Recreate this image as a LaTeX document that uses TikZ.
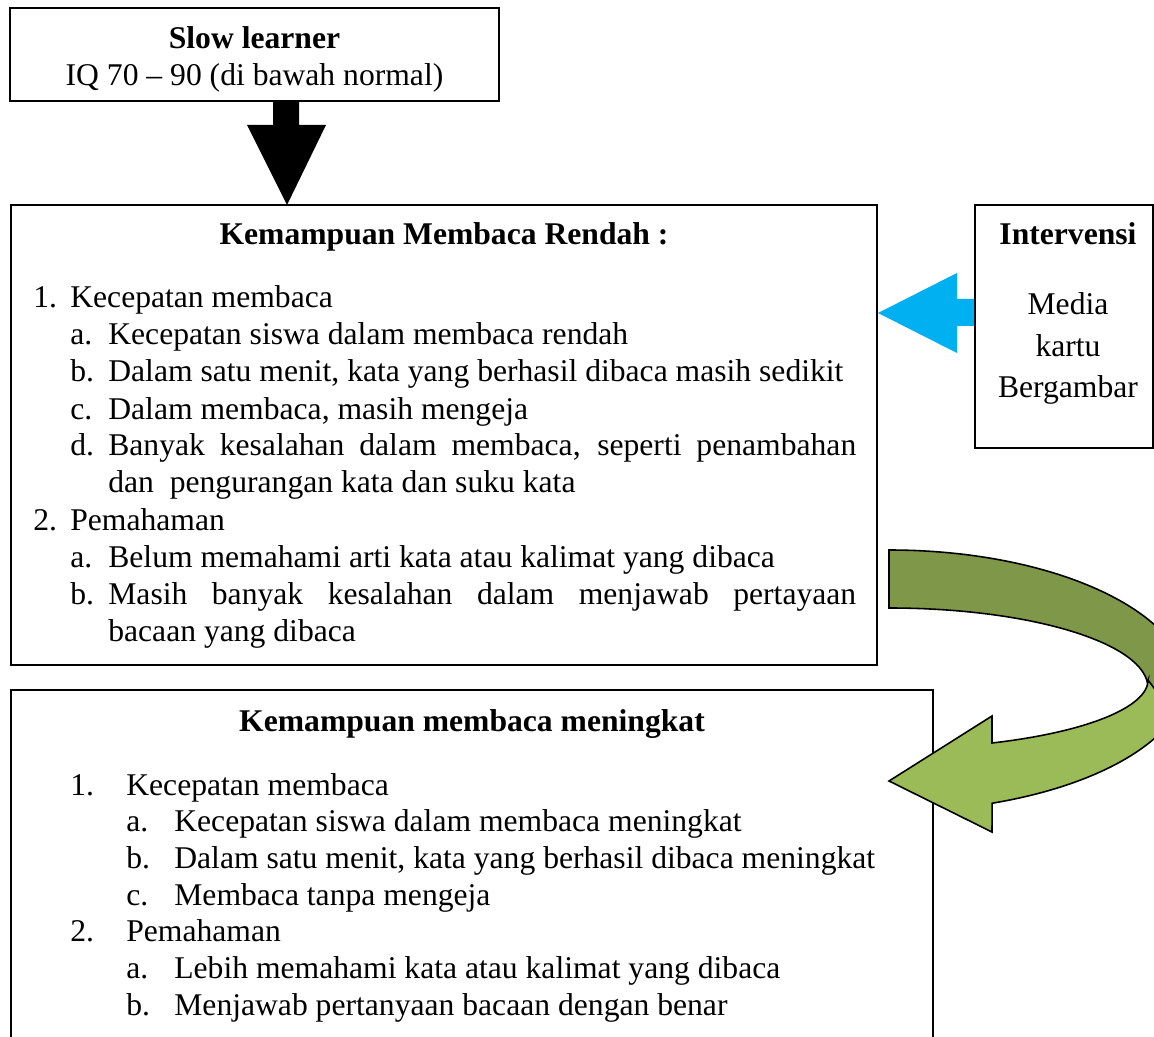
\documentclass[tikz,border=0pt]{standalone}
\usepackage{fontspec}
\setmainfont{Liberation Serif}
\usetikzlibrary{fit}

\definecolor{arrowcyan}{RGB}{0,176,240}
\definecolor{olivedark}{RGB}{127,151,72}
\definecolor{olivelight}{RGB}{155,187,89}

\tikzset{
        box/.style = {draw, line width=0.9pt, inner sep=0pt},
        txt/.style = {anchor=base west, inner sep=0pt, font=\fontsize{18}{21}\selectfont},
        ctr/.style = {anchor=base, inner sep=0pt, font=\fontsize{18}{21}\selectfont},
        ttl/.style = {ctr, font=\fontsize{18}{21}\selectfont\bfseries},
        curvearrow/.style = {draw=black, line width=0.9pt, line join=miter}
    }

\begin{document}
\begin{tikzpicture}[x=0.02cm, y=-0.02cm]
            \useasboundingbox (0,0) rectangle (1154,1037);
            \clip (0,0) rectangle (1154,1037);

            % boxes
            \node[box, fit={(10,8) (499,101)}] (slow) {};
            \node[box, fit={(11,205) (877,665)}] (rendah) {};
            \node[box, fit={(975,205) (1153,448)}] (intervensi) {};
            \node[box, fit={(11,690) (933,1060)}] (meningkat) {};

            % slow learner
            \node[ttl] (slowT) at (254.5,49) {Slow learner};
            \node[ctr] (slowIQ) at (254.5,86) {IQ 70 – 90 (di bawah normal)};

            % intervensi
            \node[ttl] (intT) at (1068,245) {Intervensi};
            \node[ctr] (int1) at (1068,315) {Media};
            \node[ctr] (int2) at (1068,357) {kartu};
            \node[ctr] (int3) at (1068,398) {Bergambar};

            % kemampuan rendah
            \node[ttl] (rendahT) at (444,245) {Kemampuan Membaca Rendah :};
            \node[txt] (r1) at (33,308) {1.};
            \node[txt] at (70,308) {Kecepatan membaca};
            \node[txt] (r2) at (33,530) {2.};
            \node[txt] at (70,530) {Pemahaman};
            \foreach \y/\l/\t in {345/a./{Kecepatan siswa dalam membaca rendah},
                    382/b./{Dalam satu menit, kata yang berhasil dibaca masih sedikit},
                    419/c./{Dalam membaca, masih mengeja},
                    456/d./{\makebox[14.96cm][s]{Banyak kesalahan dalam membaca, seperti penambahan}},
                    493//{dan~ pengurangan kata dan suku kata},
                    567/a./{Belum memahami arti kata atau kalimat yang dibaca},
                    604/b./{\makebox[14.96cm][s]{Masih banyak kesalahan dalam menjawab pertayaan}},
                    641//{bacaan yang dibaca}} {
                \node[txt] at (70,\y) {\l};
                \node[txt] at (108,\y) {\t};
            };

            % kemampuan meningkat
            \node[ttl] (meningkatT) at (472,731) {Kemampuan membaca meningkat};
            \node[txt] (m1) at (70,795) {1.};
            \node[txt] at (126,795) {Kecepatan membaca};
            \node[txt] (m2) at (70,941.7) {2.};
            \node[txt] at (126,941.7) {Pemahaman};
            \foreach \y/\l/\t in {831.7/a./{Kecepatan siswa dalam membaca meningkat},
                    868.3/b./{Dalam satu menit, kata yang berhasil dibaca meningkat},
                    905/c./{Membaca tanpa mengeja},
                    978.3/a./{Lebih memahami kata atau kalimat yang dibaca},
                    1015/b./{Menjawab pertanyaan bacaan dengan benar}} {
                \node[txt] at (126,\y) {\l};
                \node[txt] at (174,\y) {\t};
            };

            % block arrows
            \coordinate (tipA) at (287,205);
            \fill[black] (273,101) -- (299,101) -- (299,125) -- (326,125) -- (tipA)
                -- (247,125) -- (273,125) -- cycle;

            \coordinate (tipB) at (878,313);
            \fill[arrowcyan] (intervensi.west |- 0,299) -- (957,299) -- (957,273) -- (tipB)
                -- (957,353) -- (957,326) -- (intervensi.west |- 0,326) -- cycle;

            % curved arrow, back part first
            \draw[curvearrow, fill=olivedark] (889,550)
                arc[start angle=-90, end angle=0, x radius=300, y radius=140]
                -- (1175,716) -- (1148,688)
                arc[start angle=0, end angle=-90, x radius=259, y radius=80] -- cycle;
            \coordinate (tipC) at (889,781);
            \draw[curvearrow, fill=olivelight] (1148,680) -- (1175,716)
                arc[start angle=17.6, end angle=69.9, x radius=300, y radius=137]
                -- (992,832) -- (tipC) -- (992,716) -- (992,743)
                arc[start angle=66.6, end angle=0, x radius=259, y radius=69] -- cycle;

        \end{tikzpicture}
\end{document}
